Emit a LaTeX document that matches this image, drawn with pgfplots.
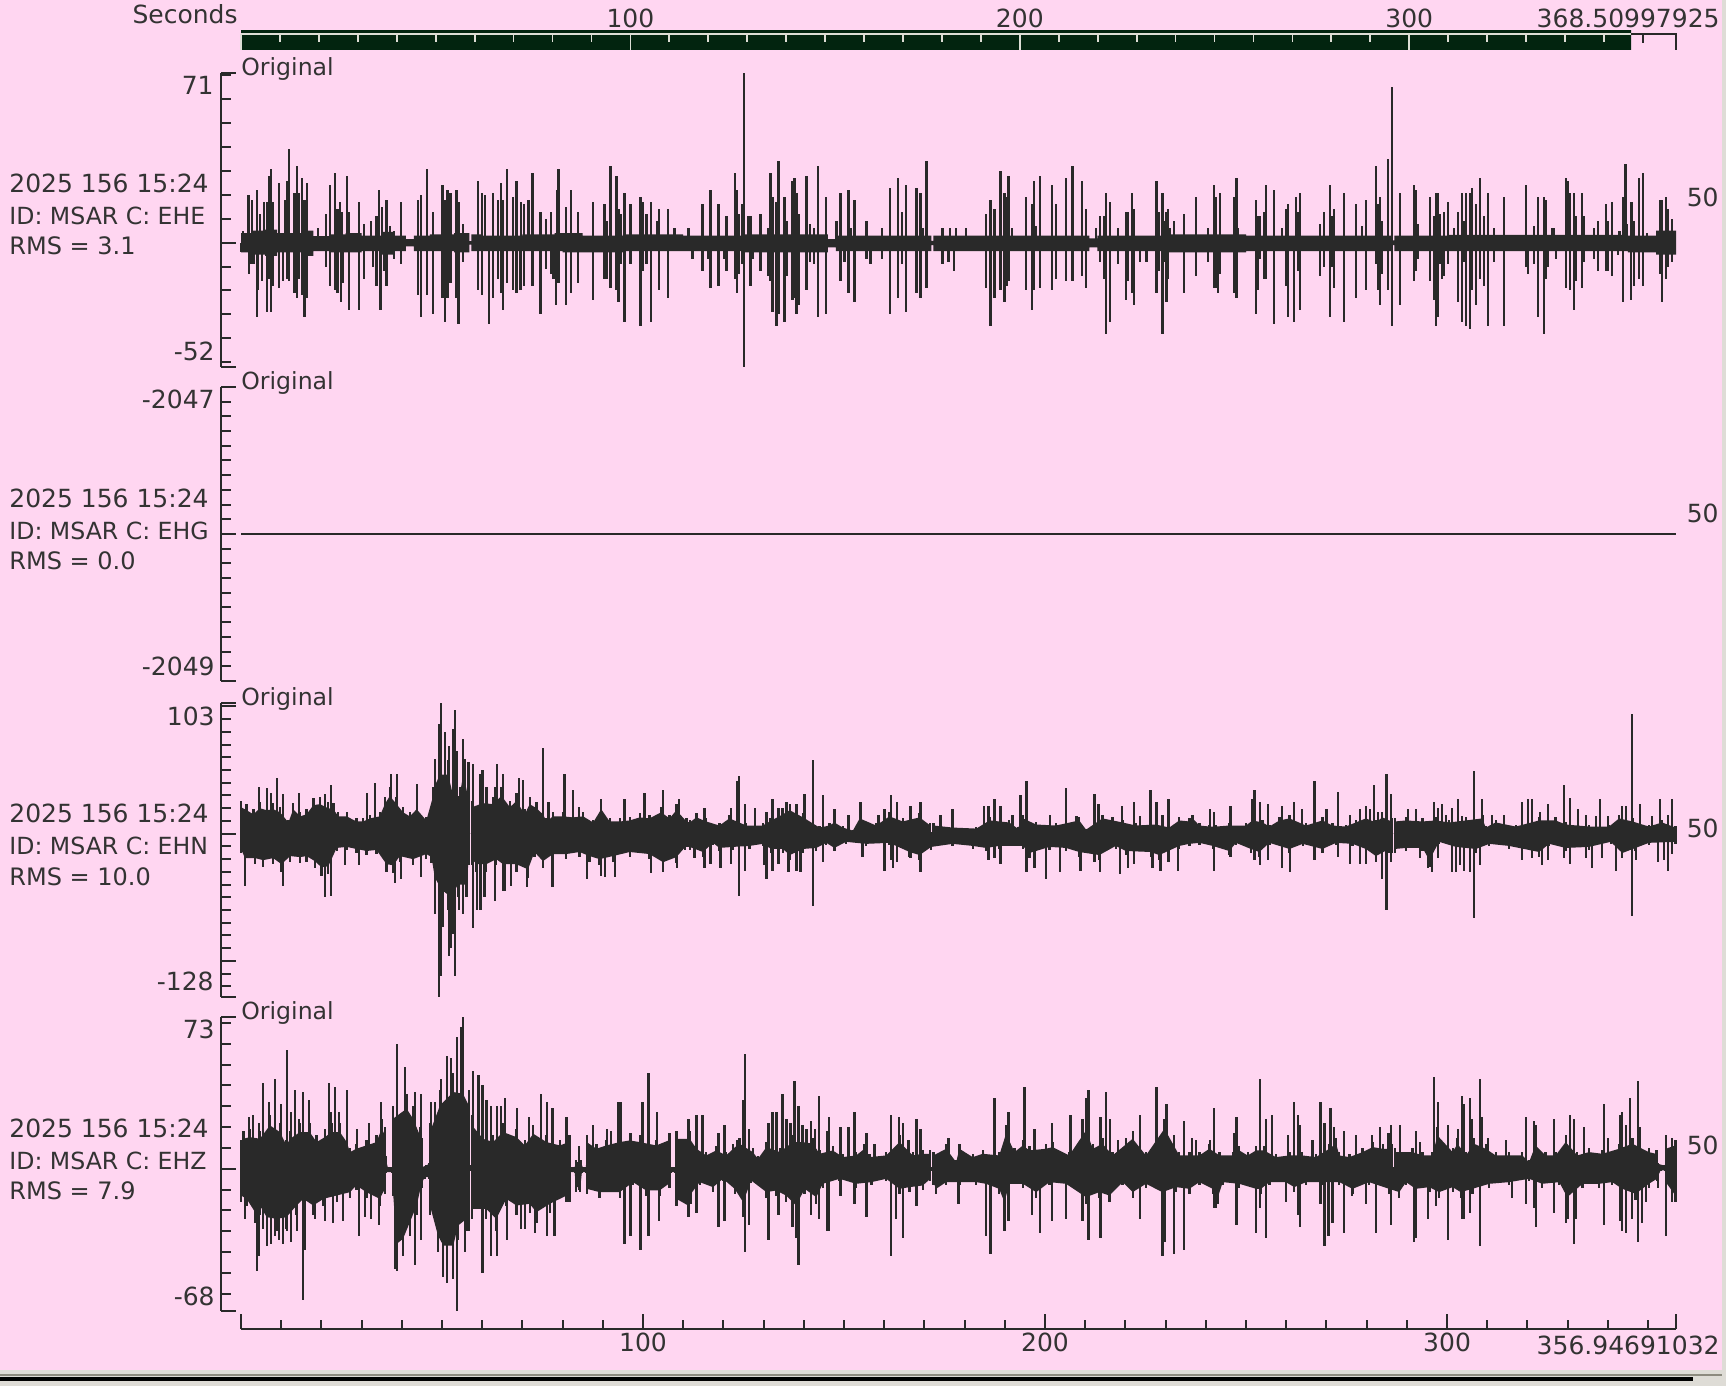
\documentclass[border=0pt]{standalone}
\usepackage{fontspec}
\setmainfont{DejaVu Sans}
\usepackage{pgfplots}
\pgfplotsset{compat=1.18}

\definecolor{bgpink}{HTML}{FFD6F1}
\definecolor{ink}{HTML}{292929}
\definecolor{txt}{HTML}{333333}
\definecolor{bardark}{HTML}{02240F}
\definecolor{barline}{HTML}{DDDDD5}
\definecolor{winlight}{HTML}{DEDCD6}
\definecolor{wingrey}{HTML}{8C8A7E}

% positions in reference pixels, 1 px = 0.5pt, y measured from the top
\newcommand{\lab}[3]{\node[anchor=base west,inner sep=0pt,text=txt] at ({0.5pt*#1},{0.5pt*(1386-#2)}) {#3};}
\newcommand{\labr}[3]{\node[anchor=base east,inner sep=0pt,text=txt] at ({0.5pt*#1},{0.5pt*(1386-#2)}) {#3};}
\newcommand{\nar}{\fontsize{11.8pt}{14pt}\selectfont}
\newcommand{\rms}{\fontsize{12pt}{14pt}\selectfont}

% envelope: a solid body under it, one column at each reading
\newcommand{\body}[1]{\edef\temp{\noexpand\addplot[core,y filter/.expression={0.8*y}] coordinates {#1} \noexpand\closedcycle;}\temp
  \edef\temp{\noexpand\addplot[spike] coordinates {#1};}\temp}

\pgfplotsset{
  trace/.style={
    scale only axis, width=717.5pt, height=147pt,
    xmin=0, xmax=356.95, clip=false,
    axis x line=none, axis y line*=left,
    axis y line shift=10pt,
    y axis line style={ink,line width=1pt},
    tick align=inside,
    major tick length=7.5pt, minor tick length=5pt,
    tick style={ink,line width=1pt},
    yticklabel=\empty,
    anchor=south west,
  },
  core/.style={fill=ink,draw=none,no markers},
  spike/.style={ycomb,draw=ink,line width=1.15pt,no markers},
  seam/.style={draw=ink,line width=1.5pt,no markers},
}

\def\ehnhi{(0,26)(1.4,23)(3.1,19)(4.7,25)(6.4,23)(8,24)(9.7,21)(11.8,11)(13,24)(14.7,17)(16.3,19)(18,28)(19.6,29)(21.7,25)(23,24)(24.2,17)(26.3,17)(28.7,12)(30.4,12)(32.1,15)(34.5,17)(35.8,29)(37,37)(38.7,29)(40.3,21)(42,17)(43.7,24)(46.1,13)(47.8,37)(48.2,47)(49.5,58)(51.5,58)(52.8,37)(54.4,37)(55.3,59)(56.4,37)(56.65,37)(56.8,0)(57.3,0)(57.45,26)(60.2,30)(62.7,29)(64.8,37)(66.9,26)(68.5,32)(70.6,19)(71.8,29)(73.5,25)(75.1,19)(76,12)(77.6,17)(80.1,17)(82.6,16)(85.1,17)(87.6,11)(89.6,24)(91.7,12)(94.2,12)(96.7,13)(99.2,16)(101.6,15)(104.5,21)(106.6,15)(108.3,23)(110.8,12)
(111.6,11)(113.3,16)(115.7,12)(119,8)(121.5,15)(125.7,8)(129.8,8)(131.5,12)(134.8,19)(136.5,23)(139.8,16)(143.9,6)(146.4,8)(147.6,11)(149.7,6)(152.2,3)(153.9,15)(158,8)(161.3,17)(164.6,12)(168.8,16)(171.45,8)(171.6,0)(172.1,0)(172.25,8)(177.1,6)(182.9,5)(186.2,13)(191.1,11)(193.2,5)(194.5,15)(197.8,9)(202.7,8)(208.5,13)(210.2,4)(214.3,15)(216.8,13)(219.3,11)(222.6,8)(227.6,9)(230.9,6)(233.4,13)(235.9,12)(236.7,15)(238.4,8)(240.9,7)(242.5,7)(245.8,8)(250,8)(251.6,13)(254.1,11)(255.8,7)(258.3,13)(260.8,15)(264.9,8)(269,13)(271.5,8)(274.8,7)(277.3,11)(279.8,15)(282.3,11)(283.9,16)(286.15,12)(286.35,0)(286.85,0)(287.05,12)(289.8,13)(293.9,12)(297.2,13)(300.5,11)(304.7,13)(308.8,15)(309.6,6)(312.1,11)(317.1,7)(322.9,13)(327,13)(329.5,9)(335.3,7)(340.3,7)(342.8,15)(346.1,12)(350.2,7)(353.5,11)(356.8,6)}
\def\ehnlo{(0,-15)(1,-24)(3.5,-24)(5.5,-26)(8,-24)(10.1,-30)(12.2,-22)(14.7,-23)(16.3,-22)(18.4,-27)(20,-33)(21.7,-32)(23.8,-14)(26.3,-13)(28.7,-15)(31.2,-17)(33.7,-16)(36.2,-30)(37.9,-31)(39.5,-22)(42.8,-25)(46.1,-20)(47.4,-23)(48.2,-43)(49.9,-55)(51.5,-60)(53.2,-55)(54,-50)(56.1,-50)(56.65,-25)(56.8,0)(57.3,0)(57.45,-25)(58.6,-30)(61,-30)(63.5,-25)(65.2,-30)(68.5,-30)(71.4,-35)(73,-18)(75.1,-27)(77.6,-20)(80.9,-20)(84.2,-18)(86.7,-22)(89.2,-25)(92.5,-22)(96.7,-18)(101.6,-20)(105,-28)(108.3,-23)(110.5,-13)
(111.6,-13)(114.9,-18)(117.4,-9)(119,-14)(122.4,-13)(126.5,-12)(129.8,-10)(131.9,-15)(134.8,-15)(136.5,-21)(139.8,-15)(143.1,-14)(145.6,-9)(147.6,-14)(150.5,-8)(155.5,-10)(161.3,-9)(166.3,-18)(168.8,-21)(171.7,-13)(177,-10)(182,-12)(185.3,-14)(188.7,-12)(194.5,-12)(196.1,-19)(201.1,-13)(205.2,-14)(208.5,-18)(213.5,-21)(217.6,-12)(220.1,-17)(226.3,-18)(228.4,-21)(233.4,-12)(235.9,-10)(238.4,-9)(241.7,-12)(245.8,-17)(247.5,-9)(251.2,-15)(253.3,-18)(255.8,-9)(260.8,-15)(264.1,-10)(269,-15)(272.4,-9)(276.5,-10)(279.8,-15)(282.3,-22)(285.6,-15)(286.15,-15)(286.35,0)(286.85,0)(287.05,-15)(289.8,-14)(293.9,-14)(295.6,-26)(298,-8)(302.2,-13)(307.2,-15)(310.5,-10)(315.4,-12)(322.9,-18)(325.4,-10)(329.5,-14)(335.3,-13)(340.7,-8)(343.6,-19)(346.9,-14)(350.2,-9)(356.8,-8)}
\def\ehzhi{(0,14)(.6,18)(2.2,19)(4.7,18)(7.2,26)(9.7,22)(11.3,14)(12.2,18)(14.7,22)(17.1,22)(18.8,16)(20.9,19)(22.5,22)(24.6,22)(26.3,16)(27.1,10)(28.7,12)(31.2,14)(33.7,16)(35,24)(35.8,20)(36,6)(36.5,1)(37.6,1)(37.8,30)(41.2,36)(42.8,30)(44.5,20)(44.9,15)(45.1,1)(46.1,2)(46.8,3)(47,22)(49.5,38)(52.8,46)(55.2,45)(56.65,38)(56.8,2)(57.3,2)(57.45,26)(60.2,18)(62.7,16)(65.2,22)(68.5,19)(70.6,14)(72.7,21)(76,16)(79.3,14)(81.6,16)(81.7,16)(81.9,1)(83,1)(83.4,4)(84.5,4)(85,1)(85.8,1)(86,16)(88.4,12)(90.9,14)(94.2,16)(96.7,17)(99.2,16)(103.3,14)(106.4,17)(106.6,17)(106.8,1)(108.1,1)(108.3,18)
(111.6,18)(113.3,12)(115.7,8)(118.2,11)(120.7,8)(122.4,12)(124,15)(127.3,10)(128.6,6)(130.7,13)(134,10)(137.3,16)(139.8,16)(142.3,15)(143.9,9)(147.2,11)(149.7,7)(153,8)(155.1,12)(156.3,7)(160.5,8)(163.8,16)(167.1,8)(169.6,9)(171.45,9)(171.6,1)(172.1,1)(172.25,8)(175.4,12)(177.9,4)(178.7,12)(182,7)(184.5,9)(188.6,8)(190.3,21)(192.4,10)(194.5,14)(196.1,11)(200.2,12)(201.9,13)(206,8)(210.2,23)(211.9,12)(214.3,15)(216.8,8)(221.8,18)(225.1,8)(229.7,24)(233.4,8)(235.9,8)(238.4,8)(240.9,12)(243.4,8)(246.7,8)(248.3,11)(250.4,8)(252.5,11)(254.5,11)(257.4,7)(260.8,8)(264,8)(267.4,7)(270.7,12)(272.4,15)(273.2,8)(275.7,7)(279,10)(281.5,13)(284,12)(286.15,12)(286.35,0)(286.85,0)(287.05,10)(291.4,10)(293.9,8)(296.4,8)(297.6,20)(301.4,10)(302.6,15)(304.7,8)(306.7,15)(309.6,12)(312.1,8)(315.4,8)(318.7,8)(320.4,4)(322,14)(324.5,8)(327,8)(329.5,16)(332.4,8)(335.3,10)(338.6,9)(342.8,12)(346.1,15)(350.2,10)(351.9,9)(352.2,9)(352.4,3)(354,2)(354.2,2)(354.4,12)(356.8,14)}
\def\ehzlo{(0,-16)(1.4,-18)(3.5,-26)(4.7,-22)(6.4,-29)(8.9,-30)(11.3,-29)(13.8,-22)(15.5,-18)(18,-22)(20.5,-18)(23.8,-16)(27.1,-14)(28.7,-10)(31.2,-14)(34.5,-18)(35.8,-12)(36,-2)(37.6,-2)(37.8,-13)(38.7,-45)(40.3,-42)(42,-32)(43.7,-22)(44.9,-9)(45.7,-5)(46.8,-5)(47,-22)(49,-40)(50.3,-46)(52.8,-46)(54,-34)(56.1,-30)(56.65,-30)(56.8,-1)(57.3,-1)(57.45,-24)(61,-24)(63.5,-30)(66,-18)(68.5,-22)(71.8,-21)(73.5,-26)(76.8,-21)(81,-16)(81.7,-16)(81.9,-2)(83,-2)(83.3,-11)(84.4,-11)(84.8,-2)(85.8,-2)(86,-12)(89.2,-14)(94.2,-14)(97.5,-8)(100.8,-13)(104.1,-13)(106.4,-9)(106.6,-9)(106.8,-2)(108.1,-2)(108.3,-18)(111.2,-22)
(111.6,-16)(114.1,-8)(117.4,-11)(119.9,-6)(122.8,-12)(124.9,-20)(126.9,-7)(130.7,-14)(133.1,-13)(135.6,-16)(138.1,-22)(140.2,-12)(143.1,-17)(144.7,-9)(148.9,-6)(153,-9)(156.8,-8)(160.5,-6)(163.8,-12)(166.3,-11)(169.6,-10)(171.45,-6)(171.6,-1)(172.1,-1)(172.25,-8)(172.9,-12)(175.4,-8)(178.7,-8)(182.9,-8)(185.3,-9)(188.6,-12)(189.9,-20)(191.1,-9)(194.5,-9)(197.8,-14)(201.1,-8)(205.2,-9)(210.2,-17)(213.5,-14)(216,-16)(219.3,-8)(221.8,-14)(225.1,-9)(229.2,-14)(232.6,-11)(235.9,-12)(238.4,-8)(241.7,-12)(243,-17)(244.2,-8)(248.3,-9)(252.5,-12)(253.7,-12)(255.8,-8)(259.9,-8)(262,-11)(264.9,-8)(269,-8)(273.2,-8)(276.5,-12)(280.6,-8)(285.6,-12)(288.1,-14)(289.8,-8)(292.2,-12)(295.6,-11)(298,-14)(301.4,-11)(303.4,-14)(306.3,-12)(310.5,-9)(315.4,-8)(320.4,-6)(323.7,-9)(327.9,-8)(329.9,-17)(333.7,-9)(337.8,-9)(341.1,-8)(343.6,-12)(346.9,-15)(350.2,-9)(352.2,-6)(353.1,-1)(354.2,-1)(354.4,-8)(356.8,-16)}

\begin{document}
\fontsize{12.5pt}{15pt}\selectfont
\begin{tikzpicture}
\path[use as bounding box] (0,0) rectangle (863pt,693pt);
\fill[bgpink] (0,0) rectangle (863pt,693pt);
% window frame along the bottom and right
\fill[winlight] (0,0) rectangle (863pt,8pt);
\fill[wingrey] (0,5pt) rectangle (863pt,6pt);
\fill[black] (0,2.5pt) rectangle (846.5pt,4.5pt);
\fill[winlight] (861pt,0) rectangle (863pt,693pt);

% seconds bar
\begin{axis}[
  at={(120.5pt,668pt)}, anchor=south west,
  scale only axis, width=717.5pt, height=7.9pt,
  xmin=0, xmax=368.51, ymin=0, ymax=1, clip=false,
  axis on top,
  axis y line=none, axis x line*=top,
  x axis line style={draw=none},
  tick align=inside,
  xtick={0,100,200,300},
  minor xtick={10,20,...,90,110,120,...,190,210,220,...,290,310,320,...,350},
  major tick length=7.9pt, minor tick length=4pt,
  tick style={barline,line width=.9pt},
  xticklabel pos=top,
  xticklabels={,100,200,300},
  xticklabel style={text=txt,yshift=-1.4pt},
]
\addplot[fill=bardark,draw=none] coordinates {(0,0)(0,1.25)(356.95,1.25)(356.95,0)} \closedcycle;
\addplot[barline,line width=.8pt] coordinates {(0,1)(356.95,1)};
\addplot[ink,line width=.9pt] coordinates {(357,1)(368.51,1)(368.51,0)};
\addplot[ink,line width=.9pt] coordinates {(360,1)(360,.45)};
\end{axis}
\labr{238}{24}{Seconds}
\labr{1720}{28}{368.50997925}

% EHE
\begin{axis}[trace, at={(120.5pt,509.5pt)}, ymin=-52, ymax=71,
  ytick={-52,0,71}, minor ytick={-50,-40,...,70}]
\addplot[core,const plot] coordinates {(0,4)(3,5)(6,5.5)(9,4)(12,4)(16,5)(18,2.8)(22,3.5)(26,4)(30,3)(35,4.5)(38,3)(41,1.5)(43,3)(47,3.5)(53,4)(56.8,0.5)(57.3,3.5)(60,3)(70,3.5)(78,4)(85,3)(95,3.5)(110,3)(125,3.5)(135,3.5)(146,1.5)(148,3)(160,3)(171.7,0.8)(172.2,3)(185,3)(200,3)(211,1.8)(213,3)(230,3.5)(250,3)(265,3)(286.4,1)(286.9,3)(300,3.3)(330,3.3)(345,3)(352,5)(356.95,5)} \closedcycle;
\addplot[core,const plot] coordinates {(0,-4)(3,-5)(6,-5.5)(9,-4)(12,-4)(16,-5.5)(18,-3.5)(22,-4)(30,-3.5)(35,-5)(38,-3.5)(41,-1.5)(43,-3.5)(53,-4)(56.8,-0.8)(57.3,-3.5)(60,-3.5)(80,-4)(95,-3.5)(110,-3.5)(125,-4)(135,-4)(146,-2)(148,-3.5)(160,-3.5)(171.7,-1)(172.2,-3.5)(185,-3.5)(200,-3.5)(211,-2)(213,-3.5)(230,-4)(250,-3.5)(265,-3.5)(286.4,-1)(286.9,-3.5)(300,-3.5)(330,-3.5)(345,-4)(352,-5)(356.95,-5)} \closedcycle;
\addplot[seam] coordinates {(0,0)(356.95,0)};
\addplot[spike] coordinates {(0.5,5)(1.9,20)(2.7,18)(3.9,22)(4.8,12)(5.7,17)(6.4,17)(6.9,28)(7.5,31)(8,17)(9.4,25)(10.9,18)(11.4,26)(11.9,39)(13.3,21)(13.9,32)(14.5,21)(15.2,27)(15.8,18)(16.4,25)(17.7,5)(19.2,6)(21.2,12)(22.2,24)(23.3,29)(24,14)(24.7,17)(25.2,13)(26.4,28)(26.9,13)(29.3,17)(30.6,8)(32.3,9)(33.7,11)(34.3,22)(35,15)(36.2,18)(37.1,7)(38,5)(39.8,17)(44.1,18)(44.7,20)(46.2,31)(47.7,13)(50.1,24)(50.7,18)(51.4,22)(52.1,21)(53.6,22)(54.1,17)(55.2,8)(59,26)(59.9,21)(60.7,20)(62.6,21)(64,18)(64.6,25)(65.2,18)(66.1,31)(67.6,19)(68.5,26)(69.6,17)(70.4,16)(71.5,18)(72.5,29)(74.5,13)(75.8,10)(77.1,13)(78.7,22)(79,31)(80.9,15)(82,22)(83.9,13)(87.5,17)
(90.4,16)(90.9,9)(91.9,32)(93.4,28)(93.9,14)(94.4,12)(95.4,21)(96.9,16)(99.4,19)(99.9,17)(100.9,12)(101.9,17)(103.4,9)(103.9,14)(106.3,14)(107.8,6)(111.3,6)(114.8,16)(116.8,22)(118.8,16)(120.8,11)(122.8,29)(123.3,22)(123.8,12)(124.7,16)(125.2,71)(126.2,11)(126.7,11)(129.2,12)(131.2,6)(131.7,29)(132.2,19)(133.2,17)(133.7,34)(135.2,19)(135.7,9)(137.2,26)(137.7,27)(138.2,21)(138.7,12)(140.7,28)(141.6,8)(142.6,6)(143.6,32)(145.6,19)(148.1,9)(149.1,21)(151.1,22)(151.6,6)(152.6,18)(155.6,9)(159.5,6)(161.5,23)(163.5,27)(164.5,13)(165.5,24)(168,23)(169,21)(169.5,6)(170.5,34)(174.5,6)(176.4,6)(177.9,6)(180.4,6)(185.4,12)(186.4,18)(187.4,14)(188.9,30)(189.9,21)(190.4,19)(190.9,28)(191.8,6)(195.3,19)(196.8,16)(197.3,26)(197.8,7)(198.8,28)(201.8,24)(202.8,16)(205.3,27)(206.8,32)(209.2,26)(210.2,14)(212.7,6)
(213.7,11)(214.7,11)(215.2,21)(216.2,17)(218.2,6)(220.2,13)(220.7,13)(221.7,21)(222.2,14)(227.7,26)(228.2,13)(229.2,21)(229.7,9)(230.2,13)(230.6,14)(231.1,6)(232.1,9)(234.6,12)(237.6,19)(240.6,6)(242.1,24)(242.6,19)(243.6,21)(247,19)(247.6,27)(248,6)(252.5,18)(253,11)(253.5,11)(254.5,13)(255,24)(257,22)(259,6)(260,14)(260.5,16)(262.5,19)(263,13)(263.5,21)(268.4,8)(269.4,13)(270.9,24)(271.4,11)(271.9,14)(274.4,21)(277.4,16)(278.9,7)(279.9,18)(282.4,32)(282.8,16)(283.3,19)(283.8,9)(285.3,35)(286.3,65)(288.3,21)(291.8,24)(292.3,22)(292.8,8)(295.8,19)(296.8,11)(297.3,21)(297.8,21)(298.3,12)(299.3,13)(300.2,17)(301.7,6)(302.7,13)(303.7,21)(304.2,9)(304.7,21)(305.7,21)(306.2,23)(307.2,16)(308.2,27)(309.2,11)(310.2,21)(311.7,6)(314.2,19)(319.6,24)(321.6,7)(322.6,19)(324.1,19)(324.6,18)(326.1,6)(326.6,6)(329.6,27)(330.1,26)(330.6,21)(331.6,21)(332.1,11)(333.6,21)(334.1,11)(336.5,6)(337.5,9)(339.5,16)(340,9)(341,17)(342.9,5)(343.8,19)(344.4,33)(344.8,8)(345.9,17)(346.5,9)(347.8,27)(348.8,29)(349.8,4)(353,18)(353.5,18)(354.4,19)(354.9,14)(355.9,10)(356.4,5)};
\addplot[spike] coordinates {(0,-4)(2,-13)(2.6,-9)(3.1,-9)(3.9,-31)(4.3,-20)(5.2,-16)(6.4,-29)(6.9,-15)(7.5,-29)(7.9,-18)(9.4,-19)(10.4,-16)(11.4,-15)(11.9,-16)(13.3,-21)(13.9,-23)(14.5,-15)(15.2,-22)(15.8,-31)(16.4,-23)(21.2,-10)(22.2,-18)(23.3,-20)(24,-21)(24.8,-25)(25.4,-17)(26.9,-28)(29.3,-28)(30.6,-15)(32.8,-10)(33.7,-18)(34.7,-28)(35.5,-12)(36.2,-18)(38,-7)(39.8,-9)(44.1,-22)(44.7,-31)(46.2,-22)(47.7,-30)(50.1,-23)(50.7,-33)(51.4,-23)(52.1,-17)(53.6,-23)(54.1,-34)(55.2,-8)(59,-20)(59.9,-22)(61.7,-34)(62.6,-23)(64,-15)(64.6,-21)(65.2,-28)(66.1,-17)(67.6,-20)(68.5,-21)(69.5,-20)(70.4,-18)(72.5,-18)(74.5,-30)(75.8,-11)(77.1,-13)(77.7,-15)(78.3,-26)(79,-17)(80.9,-26)(82,-21)(83.9,-17)(87.5,-24)
(90.4,-15)(90.9,-15)(91.9,-19)(93.4,-20)(93.9,-25)(94.4,-9)(95.4,-33)(96.9,-9)(99.4,-35)(99.9,-12)(100.9,-9)(101.9,-33)(103.9,-20)(106.3,-23)(112.3,-7)(114.8,-12)(116.3,-7)(116.8,-19)(118.8,-18)(120.3,-7)(120.8,-12)(122.8,-15)(123.3,-21)(123.8,-13)(124.7,-9)(125.2,-52)(126.7,-18)(127.2,-7)(129.2,-12)(131.2,-14)(131.7,-16)(132.2,-29)(133.2,-35)(133.7,-30)(135.2,-33)(135.7,-14)(137.2,-24)(137.7,-23)(138.2,-30)(138.7,-26)(140.7,-20)(141.6,-8)(142.6,-9)(143.6,-31)(145.6,-30)(149.1,-16)(150.1,-8)(151.1,-21)(152.6,-25)(155.6,-7)(156.6,-9)(159.5,-7)(161.5,-30)(163.5,-23)(164.5,-9)(165.5,-29)(168,-21)(169,-23)(170.5,-19)(174.5,-9)(176,-8)(177.4,-12)(185.4,-19)(186.4,-35)(187.4,-23)(188.9,-20)(189.9,-25)(190.4,-18)(190.9,-16)(195.3,-20)(196.8,-28)(197.3,-20)(198.8,-19)(201.8,-20)(202.8,-15)(205.3,-16)(206.8,-16)(209.2,-14)(210.2,-19)
(213.7,-8)(214.7,-15)(215.2,-38)(216.2,-33)(218.2,-9)(220.2,-24)(220.7,-16)(221.7,-21)(222.2,-26)(223.7,-8)(225.2,-8)(227.7,-21)(228.2,-12)(229.2,-38)(229.7,-8)(230.2,-25)(230.6,-15)(234.6,-21)(237.6,-14)(240.6,-8)(242.1,-19)(242.6,-19)(243.1,-21)(243.6,-13)(247,-21)(247.6,-23)(252.5,-30)(253,-20)(253.5,-7)(254.5,-15)(255,-15)(257,-34)(260,-18)(260.5,-31)(262,-33)(263,-12)(263.5,-28)(268.4,-14)(269.4,-10)(270.9,-31)(271.4,-10)(271.9,-19)(274.4,-33)(277.4,-23)(279.9,-20)(282.4,-9)(282.8,-20)(283.3,-26)(283.8,-13)(285.3,-20)(286.3,-35)(288.3,-26)(291.8,-16)(292.3,-12)(292.8,-7)(295.8,-16)(296.8,-24)(297.3,-35)(297.8,-31)(298.3,-9)(298.8,-15)(299.3,-14)(300.2,-9)(302.7,-25)(303.7,-33)(304.2,-8)(304.7,-35)(305.7,-36)(306.2,-20)(307.2,-26)(308.2,-15)(309.2,-18)(310.2,-35)(311.7,-8)(314.2,-35)(319.6,-10)(320.1,-13)(321.6,-9)(322.6,-31)(324.1,-38)(324.6,-15)(325.1,-10)(327.1,-7)(329.6,-19)(330.6,-20)(331.6,-28)(332.1,-16)(333.6,-19)(334.1,-8)(336.5,-7)(337.5,-12)(339.5,-12)(340,-12)(341,-14)(342.5,-5)(343.8,-25)(345.8,-24)(346.5,-18)(347.8,-15)(348.8,-18)(353,-13)(353.5,-25)(354.4,-15)(354.9,-10)(355.9,-8)};
\end{axis}

% EHG
\begin{axis}[trace, at={(120.5pt,352.5pt)}, ymin=-2049, ymax=-2047,
  ytick={-2049,-2048,-2047},
  minor ytick={-2048.9,-2048.8,...,-2048.1,-2047.9,-2047.8,...,-2047.1}]
\addplot[ink,line width=1pt] coordinates {(0,-2048)(356.95,-2048)};
\end{axis}

% EHN
\begin{axis}[trace, at={(120.5pt,194.7pt)}, ymin=-128, ymax=103,
  ytick={-128,-100,0,100,103},
  minor ytick={-120,-110,...,-10,10,20,...,90}]
\body{\ehnhi}
\body{\ehnlo}
\addplot[seam] coordinates {(0,0)(56.8,0)};
\addplot[seam] coordinates {(57.3,0)(286.35,0)};
\addplot[seam] coordinates {(286.85,0)(356.95,0)};
\addplot[spike] coordinates {(4.5,37)(6.5,36)(7.4,32)(9,44)(10.4,31)(14.4,32)(20.9,31)(22.4,38)(31.3,32)(33.3,40)(37.3,47)(38.8,47)(43.7,39)(48.2,59)(49.2,86)(49.7,103)(50.7,80)(51.7,69)(52.7,82)(53.2,97)(53.7,65)(55.2,74)(55.7,59)(56.6,56)(57.7,55)(59.6,47)(60.1,50)(61.1,37)(63.1,37)(63.6,55)(65.1,47)(69.1,44)(70.1,42)(75.1,67)(76.5,25)(80.5,47)(82.5,34)(84,21)(89.5,27)(95.4,27)(100.4,32)(104.9,34)(108.9,27)
(115.3,20)(121.8,20)(123.3,41)(123.8,45)(125.3,23)(127.8,20)(130.7,17)(132.2,27)(133.7,20)(134.7,20)(135.7,25)(138.2,23)(140.2,31)(142.2,58)(144.7,30)(147.6,19)(151.1,15)(154.1,25)(158.6,15)(160.1,19)(161.6,30)(163.1,25)(166.5,22)(169,25)(174,15)(177,19)(184.9,22)(185.9,22)(187.4,27)(188.9,22)(191.9,15)(193.9,30)(195.4,41)(201.3,15)(205.3,36)(207.8,14)(212.3,31)(213.3,23)(219.2,22)(222.2,25)(223.7,14)(226.2,34)(227.7,25)(229.2,15)(230.7,27)
(241.1,19)(242.1,17)(246.1,22)(251.6,27)(252.1,34)(253.5,25)(255.5,23)(259,22)(262,25)(264,19)(267,41)(270,19)(272.9,33)(275.9,15)(278.4,19)(279.9,22)(280.9,19)(281.9,38)(282.9,17)(283.9,17)(284.9,47)(286,31)(290.3,19)(292.3,19)(296.8,25)(297.8,20)(298.8,23)(299.8,15)(301.3,20)(302.8,27)(303.8,14)(306.7,49)(308.7,27)(311.2,15)(314.2,15)(318.7,25)(320.2,27)(321.2,27)(323.1,17)(325.1,23)(329.1,38)(330.6,28)(332.6,19)(334.6,15)(337.1,14)(338.1,27)(340.1,14)(343.5,22)(344.5,22)(346,94)(348,23)(351,14)(353,27)(355,15)(356,27)};
\addplot[spike] coordinates {(1,-41)(10.4,-41)(20.9,-50)(22.4,-49)(25.8,-25)(29.3,-25)(38.3,-39)(39.8,-36)(44.7,-34)(48.2,-63)(49.2,-128)(49.7,-112)(50.2,-73)(51.7,-96)(52.2,-90)(52.7,-79)(53.2,-112)(54.2,-60)(55.2,-63)(57.7,-74)(58.7,-60)(59.6,-60)(60.6,-50)(63.1,-53)(65.1,-45)(65.6,-45)(67.1,-41)(71.1,-42)(77.5,-42)(86,-36)(89.5,-33)(90.5,-34)(93,-34)(101.9,-31)(104.9,-30)(108.4,-27)
(112.8,-19)(115.3,-27)(116.8,-24)(119.3,-27)(121.8,-24)(123.8,-49)(125.3,-29)(130.2,-25)(130.7,-36)(132.2,-29)(133.7,-24)(136.2,-30)(138.2,-29)(139.2,-30)(142.2,-57)(144.7,-22)(154.6,-18)(160.1,-29)(161.6,-21)(162.1,-27)(163.1,-22)(166.5,-19)(169,-30)(185.9,-21)(187.4,-19)(188.9,-24)(195.4,-30)(197.4,-27)(200.3,-36)(203.8,-30)(208.8,-29)(212.3,-22)(213.7,-30)(218.7,-32)(220.7,-27)(222.2,-24)(226.7,-27)(228.7,-29)(230.7,-22)(233.1,-29)
(242.1,-29)(246.1,-18)(252.1,-21)(253.5,-25)(255.5,-21)(259,-27)(261,-30)(267,-21)(272.9,-18)(275.9,-24)(278.4,-24)(279.9,-24)(283.9,-36)(284.9,-60)(286,-22)(293.3,-19)(295.3,-27)(296.3,-30)(297.8,-19)(301.3,-30)(302.3,-30)(303.3,-25)(304.2,-29)(305.7,-30)(306.7,-66)(308.2,-25)(318.7,-21)(321.2,-19)(323.7,-25)(325.1,-21)(329.1,-19)(330.6,-24)(334.6,-19)(336,-27)(338.6,-19)(342,-29)(346,-65)(347,-21)(352.5,-22)(354,-21)(355,-29)(356,-16)};
\end{axis}

% EHZ
\begin{axis}[trace, at={(120.5pt,37.7pt)}, ymin=-68, ymax=73,
  ytick={-68,0,73}, minor ytick={-60,-50,...,-10,10,20,...,70}]
\body{\ehzhi}
\body{\ehzlo}
\addplot[seam] coordinates {(0,0)(356.95,0)};
\addplot[spike] coordinates {(2,25)(3,26)(4.5,22)(5.5,41)(7,32)(8.4,43)(9.9,31)(11.4,57)(12.4,27)(13.4,38)(14.4,24)(15.4,37)(16.9,33)(21.9,41)(22.4,27)(23.4,39)(24.3,27)(26.3,38)(28.8,19)(31.8,22)(34.8,32)(38.8,60)(40.8,49)(43.2,37)(44.7,36)(47.2,32)(48.2,32)(49.7,43)(51.2,54)(52.2,53)(53.7,63)(54.7,68)(55.2,73)(57.7,47)(59.1,45)(60.1,40)(61.1,33)(62.1,30)(63.6,30)(64.6,30)(65.6,34)(68.6,29)(71.6,25)(74.6,36)(76.1,32)(77.5,29)(81,25)(84,11)(87.5,21)(91,19)(92,18)(93.9,32)(94.4,32)(96.9,17)(99.9,32)(101.4,46)(103.4,27)(106.4,17)(111.3,24)
(113.3,26)(114.8,26)(118.8,17)(120.3,21)(123.3,14)(124.8,33)(125.3,55)(126.3,19)(131.2,22)(132.2,27)(133.2,27)(134.7,36)(135.7,24)(136.7,22)(137.7,42)(138.7,30)(139.7,21)(140.7,19)(141.7,23)(142.7,19)(143.7,35)(145.7,18)(146.2,25)(149.1,20)(151.1,20)(152.6,27)(155.6,17)(157.6,12)(161.6,26)(163.6,25)(164.6,22)(166,14)(168,24)(169,19)(176,15)(187.4,34)(190.9,27)(194.9,39)(197.4,19)(201.8,22)(206.3,26)(209.3,24)(210.3,34)(210.8,38)(213.8,25)(215.2,37)(216.2,24)(218.2,14)(220.2,15)(223.7,26)(227.7,39)(230.2,31)(232.1,16)(234.6,23)
(236.6,15)(237.6,14)(241.1,14)(242.1,29)(247.1,17)(247.6,25)(253.5,43)(255,24)(256.5,26)(260.5,16)(262,32)(263,26)(263.5,21)(266.5,14)(268.5,32)(269.5,22)(271,29)(271.9,20)(274.4,18)(277.4,16)(281.4,16)(283.4,20)(285.4,17)(286,21)(288.3,21)(292.3,18)(293.3,13)(296.8,44)(297.8,32)(300.3,21)(302.8,19)(303.8,35)(304.3,31)(305.7,34)(306.2,24)(308.2,43)(308.7,25)(310.2,15)(314.7,14)(319.7,25)(321.7,23)(322.2,21)(326.6,24)(330.6,26)(331.6,24)(334.1,20)(339.1,31)(340.1,15)(343,26)(343.5,27)(344.5,21)(345.5,34)(347.5,42)(348,20)(354.5,16)(356,15)};
\addplot[spike] coordinates {(1,-24)(4,-49)(4.5,-42)(5.5,-29)(6.5,-37)(7.4,-36)(8.4,-32)(9.4,-34)(10.4,-36)(11.4,-30)(12.4,-35)(13.9,-30)(15.4,-63)(15.9,-39)(18.4,-24)(20.9,-25)(22.9,-26)(25.3,-25)(29.3,-32)(30.8,-23)(32.3,-24)(34.3,-27)(38.3,-48)(38.8,-49)(43.2,-46)(44.7,-34)(50.2,-52)(51.2,-55)(52.7,-53)(53.7,-68)(55.7,-40)(60.1,-50)(62.1,-42)(63.6,-42)(66.1,-34)(69.6,-29)(70.6,-29)(73.1,-31)(76.1,-32)(78,-32)(84,-10)(95.4,-36)(96.9,-32)(99.4,-39)(101.4,-32)(103.9,-25)(111.3,-23)
(111.8,-17)(113.3,-21)(118.8,-28)(120.3,-25)(124.8,-23)(125.3,-40)(126.3,-27)(131.2,-34)(133.7,-22)(137.2,-28)(138.2,-33)(138.7,-46)(141.7,-22)(143.7,-24)(145.7,-30)(146.2,-30)(149.1,-13)(152.6,-17)(155.6,-23)(161.6,-42)(163,-24)(164.6,-33)(168,-18)(178.5,-17)(185.4,-32)(186.4,-41)(189.9,-30)(190.9,-25)(196.8,-22)(198.8,-31)(201.8,-25)(205.3,-24)(209.3,-25)(210.8,-34)(213.8,-33)(223.7,-24)(229.2,-42)(229.7,-35)(232.1,-41)(234.6,-39)
(242.1,-19)(242.6,-19)(247.6,-27)(252.5,-31)(253.5,-19)(255,-33)(260,-16)(263,-22)(263.5,-28)(268.5,-17)(269.5,-37)(270.5,-32)(271.5,-26)(274.4,-31)(276.4,-13)(279.9,-17)(282.4,-31)(286,-27)(291.8,-35)(292.3,-33)(295.3,-24)(297.3,-18)(300.3,-34)(303.8,-24)(304.3,-24)(305.7,-21)(308.2,-37)(316.2,-14)(319.7,-17)(321.7,-19)(322.2,-28)(326.6,-21)(329.6,-26)(330.1,-24)(331.6,-36)(332.1,-24)(339.1,-27)(343,-25)(343.5,-30)(344.5,-31)(346,-24)(347.5,-35)(348.5,-26)(349.5,-16)(352.5,-9)(354.5,-32)(356,-16)};
\end{axis}

% bottom time axis
\begin{axis}[
  at={(120.5pt,28.6pt)}, anchor=south west,
  scale only axis, width=717.5pt, height=7.4pt,
  xmin=0, xmax=356.95, ymin=0, ymax=1,
  axis y line=none, axis x line*=bottom,
  x axis line style={ink,line width=1pt},
  tick align=inside,
  xtick={0,100,200,300,356.95},
  xticklabels={,100,200,300,},
  minor xtick={10,20,...,90,110,120,...,190,210,220,...,290,310,320,...,350},
  major tick length=7.4pt, minor tick length=4.4pt,
  tick style={ink,line width=1pt},
  xticklabel style={text=txt,yshift=2.1pt},
]
\addplot[draw=none] coordinates {(0,0)(356.95,1)};
\end{axis}
\labr{1720}{1355}{356.94691032}

% channel captions
\lab{241}{76}{\nar Original}
\lab{241}{390}{\nar Original}
\lab{241}{706}{\nar Original}
\lab{241}{1020}{\nar Original}

\lab{9}{193}{2025 156 15:24}
\lab{9}{225}{\nar ID: MSAR C: EHE}
\lab{9}{255}{\rms RMS = 3.1}
\lab{9}{508}{2025 156 15:24}
\lab{9}{540}{\nar ID: MSAR C: EHG}
\lab{9}{570}{\rms RMS = 0.0}
\lab{9}{823}{2025 156 15:24}
\lab{9}{855}{\nar ID: MSAR C: EHN}
\lab{9}{886}{\rms RMS = 10.0}
\lab{9}{1138}{2025 156 15:24}
\lab{9}{1170}{\nar ID: MSAR C: EHZ}
\lab{9}{1200}{\rms RMS = 7.9}

\labr{214}{95}{71}
\labr{215}{361}{-52}
\labr{215}{409}{-2047}
\labr{215}{676}{-2049}
\labr{215}{726}{103}
\labr{214}{991}{-128}
\labr{215}{1039}{73}
\labr{215}{1306}{-68}

\labr{1719}{207}{50}
\labr{1719}{523}{50}
\labr{1719}{838}{50}
\labr{1719}{1155}{50}
\end{tikzpicture}
\end{document}
